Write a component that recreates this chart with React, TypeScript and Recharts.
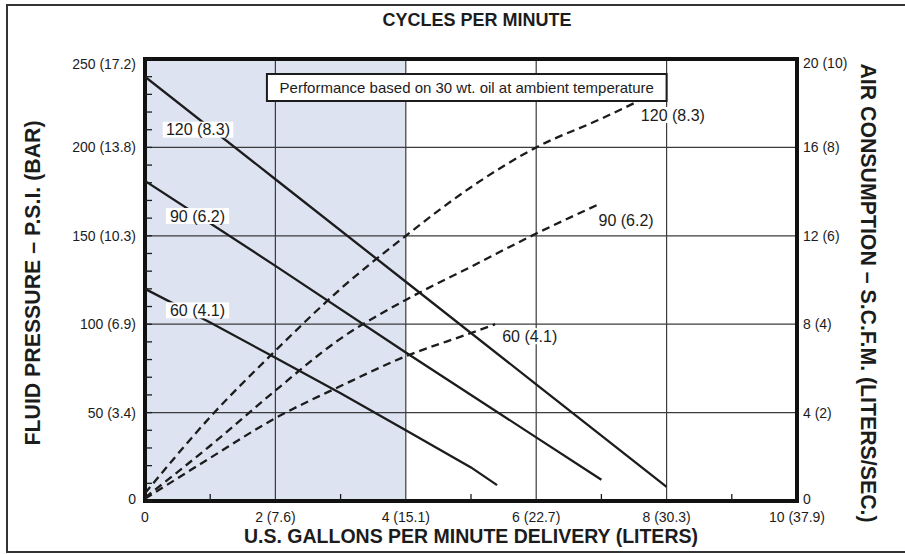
import React from "react";
import {
  CartesianGrid,
  ComposedChart,
  LabelList,
  Line,
  ReferenceArea,
  XAxis,
  YAxis
} from "recharts";

// axis ticks and labels
const cycleTicks = [0, 60, 120, 180, 240, 300];
const gpmTicks = [0, 2, 4, 6, 8, 10];
const gpmTickLabels = ["0", "2 (7.6)", "4 (15.1)", "6 (22.7)", "8 (30.3)", "10 (37.9)"];
const gpmMinorTicks = [1, 3, 5, 7, 9];
const psiTicks = [0, 50, 100, 150, 200, 250];
const psiTickLabels = ["0", "50 (3.4)", "100 (6.9)", "150 (10.3)", "200 (13.8)", "250 (17.2)"];
const psiMinorTicks = [10, 20, 30, 40, 60, 70, 80, 90, 110, 120, 130, 140, 160, 170, 180, 190, 210, 220, 230, 240];
const scfmTicks = [0, 4, 8, 12, 16, 20];
const scfmTickLabels = ["0", "4 (2)", "8 (4)", "12 (6)", "16 (8)", "20 (10)"];

// air inlet pressure, psi (bar)
const inletLabels = ["120 (8.3)", "90 (6.2)", "60 (4.1)"];

// fluid pressure (psi) against delivery (gpm), solid lines
const fluid120Gpm = [0, 2, 4, 6, 8];
const fluid120Psi = [240, 182, 124, 66, 8];
const fluid90Gpm = [0, 2, 4, 6, 7];
const fluid90Psi = [181, 133, 84, 36, 12];
const fluid60Gpm = [0, 1, 2, 3, 4, 5, 5.4];
const fluid60Psi = [120, 101, 81, 61, 40, 19, 9];

// air consumption (scfm) against delivery (gpm), dashed lines
const air120Gpm = [0, 1, 2, 3, 4, 5, 6, 7, 7.57];
const air120Scfm = [0.35, 3.8, 6.8, 9.6, 12.0, 14.2, 16.0, 17.3, 18.1];
const air90Gpm = [0, 1, 2, 3, 4, 5, 6, 6.94];
const air90Scfm = [0.15, 2.5, 5.0, 7.35, 9.1, 10.6, 12.1, 13.4];
const air60Gpm = [0, 1, 2, 3, 4, 5, 5.37];
const air60Scfm = [0.1, 1.95, 3.75, 5.2, 6.55, 7.6, 8.0];

const noteText = "Performance based on 30 wt. oil at ambient temperature";

const W = 905;
const H = 554;
const PLOT = { left: 145, top: 59, right: 797, bottom: 501 };
const INK = "#1c1c1c";
const GRID = "#3c3c3c";
const SHADE = "#dee3f2";
const FONT = "'Liberation Sans', Arial, Helvetica, sans-serif";
const TICK_SIZE = 14;

const rows = (xs: number[], ys: number[]) => xs.map((gpm, i) => ({ gpm, value: ys[i] }));

function LeftTick(props: any) {
  const { x, y, payload } = props;
  const i = psiTicks.indexOf(payload.value);
  const nudge = payload.value === 250 ? 5 : payload.value === 0 ? -2 : 0;
  return (
    <g>
      <line x1={PLOT.left} x2={PLOT.left + 7} y1={y} y2={y} stroke={INK} strokeWidth={1.3} />
      {i >= 0 && (
        <text x={x} y={y + nudge} dy="0.35em" textAnchor="end" fontSize={TICK_SIZE} fill={INK} fontFamily={FONT}>
          {psiTickLabels[i]}
        </text>
      )}
    </g>
  );
}

function RightTick(props: any) {
  const { x, y, payload } = props;
  const i = scfmTicks.indexOf(payload.value);
  const nudge = payload.value === 20 ? 4 : payload.value === 0 ? -2 : 0;
  return (
    <text x={x} y={y + nudge} dy="0.35em" textAnchor="start" fontSize={TICK_SIZE} fill={INK} fontFamily={FONT}>
      {scfmTickLabels[i]}
    </text>
  );
}

function BottomTick(props: any) {
  const { x, y, payload } = props;
  const i = gpmTicks.indexOf(payload.value);
  if (i < 0) {
    return <line x1={x} x2={x} y1={PLOT.bottom} y2={PLOT.bottom - 7} stroke={INK} strokeWidth={1.3} />;
  }
  return (
    <text x={x} y={y} dy="0.35em" textAnchor="middle" fontSize={TICK_SIZE} fill={INK} fontFamily={FONT}>
      {gpmTickLabels[i]}
    </text>
  );
}

function TopTick(props: any) {
  const { x, y, payload } = props;
  return (
    <text x={x} y={y} dy="0.35em" textAnchor="middle" fontSize={TICK_SIZE} fill={INK} fontFamily={FONT}>
      {payload.value}
    </text>
  );
}

function Title(props: any) {
  const { text, tx, ty, rot = 0, size = 18 } = props;
  return (
    <text
      x={tx}
      y={ty}
      transform={rot ? `rotate(${rot} ${tx} ${ty})` : undefined}
      textAnchor="middle"
      dominantBaseline="central"
      fontSize={size}
      fontWeight="bold"
      fill={INK}
      fontFamily={FONT}
    >
      {text}
    </text>
  );
}

// label drawn once per series, offset from one of its points, on a white patch
function seriesLabel(text: string, pick: number, dx: number, dy: number, anchor: "middle" | "start") {
  return (props: any) => {
    if (props.index !== pick) return null;
    const vb = props.viewBox ?? props;
    const w = text.length * 7.4 + 4;
    const cx = anchor === "middle" ? vb.x + dx : vb.x + dx + w / 2 - 2;
    const cy = vb.y + dy;
    return (
      <g>
        <rect x={cx - w / 2} y={cy - 8} width={w} height={16} fill="#fff" />
        <text x={cx} y={cy} dy="0.35em" textAnchor="middle" fontSize={16} fill={INK} fontFamily={FONT}>
          {text}
        </text>
      </g>
    );
  };
}

export default function App() {
  return (
    <div
      style={{
        position: "absolute",
        left: 0,
        top: 0,
        width: W,
        height: H,
        overflow: "hidden",
        background: "#fff"
      }}
    >
      <div
        style={{
          position: "absolute",
          left: 6,
          top: 4,
          width: W + 20,
          height: 549,
          border: "2px solid #333",
          boxSizing: "border-box"
        }}
      />
      <div style={{ position: "absolute", left: 0, top: 0 }}>
        <ComposedChart
          width={W}
          height={H}
          margin={{ top: PLOT.top - 1, right: W - PLOT.right - 1, bottom: H - PLOT.bottom - 1, left: PLOT.left - 1 }}
        >
          <CartesianGrid
            xAxisId="gpm"
            yAxisId="psi"
            stroke={GRID}
            strokeWidth={1.2}
            verticalValues={gpmTicks}
            horizontalValues={psiTicks}
            verticalFill={[SHADE, SHADE, "transparent", "transparent", "transparent"]}
            fillOpacity={1}
          />
          <XAxis
            xAxisId="gpm"
            type="number"
            dataKey="gpm"
            domain={[0, 10]}
            ticks={[...gpmTicks, ...gpmMinorTicks].sort((a, b) => a - b)}
            interval={0}
            height={1}
            tickSize={0}
            tickMargin={16}
            axisLine={false}
            tickLine={false}
            tick={(p: any) => <BottomTick {...p} />}
            allowDataOverflow
            label={<Title text="U.S. GALLONS PER MINUTE DELIVERY (LITERS)" tx={471} ty={536} size={19.5} />}
          />
          <XAxis
            xAxisId="cycles"
            orientation="top"
            type="number"
            domain={[0, 300]}
            ticks={cycleTicks}
            interval={0}
            height={1}
            tickSize={0}
            tickMargin={14}
            axisLine={false}
            tickLine={false}
            tick={(p: any) => <TopTick {...p} />}
            allowDataOverflow
            label={<Title text="CYCLES PER MINUTE" tx={477} ty={20} size={18} />}
          />
          <YAxis
            yAxisId="psi"
            type="number"
            domain={[0, 250]}
            ticks={[...psiTicks, ...psiMinorTicks].sort((a, b) => a - b)}
            interval={0}
            width={1}
            tickSize={0}
            tickMargin={9}
            axisLine={false}
            tickLine={false}
            tick={(p: any) => <LeftTick {...p} />}
            allowDataOverflow
            label={<Title text="FLUID PRESSURE – P.S.I. (BAR)" tx={33} ty={283} rot={-90} size={21.3} />}
          />
          <YAxis
            yAxisId="scfm"
            orientation="right"
            type="number"
            domain={[0, 20]}
            ticks={scfmTicks}
            interval={0}
            width={1}
            tickSize={0}
            tickMargin={6}
            axisLine={false}
            tickLine={false}
            tick={(p: any) => <RightTick {...p} />}
            allowDataOverflow
            label={<Title text="AIR CONSUMPTION – S.C.F.M. (LITERS/SEC.)" tx={868} ty={293} rot={90} size={21.3} />}
          />

          <ReferenceArea
            xAxisId="gpm"
            yAxisId="psi"
            x1={1.87}
            x2={8.0}
            y1={226.2}
            y2={241.5}
            fill="#fff"
            fillOpacity={1}
            stroke={INK}
            strokeWidth={2}
            label={{ value: noteText, position: "center", fontSize: 15, fill: INK, fontFamily: FONT }}
          />

          <Line xAxisId="gpm" yAxisId="scfm" data={rows(air120Gpm, air120Scfm)} dataKey="value" type="monotone" stroke={INK} strokeWidth={2.3} strokeDasharray="8 5" dot={false} activeDot={false} isAnimationActive={false}>
            <LabelList dataKey="value" content={seriesLabel(inletLabels[0], air120Gpm.length - 1, 1, 14, "start")} />
          </Line>
          <Line xAxisId="gpm" yAxisId="scfm" data={rows(air90Gpm, air90Scfm)} dataKey="value" type="monotone" stroke={INK} strokeWidth={2.3} strokeDasharray="8 5" dot={false} activeDot={false} isAnimationActive={false}>
            <LabelList dataKey="value" content={seriesLabel(inletLabels[1], air90Gpm.length - 1, -1, 16, "start")} />
          </Line>
          <Line xAxisId="gpm" yAxisId="scfm" data={rows(air60Gpm, air60Scfm)} dataKey="value" type="monotone" stroke={INK} strokeWidth={2.3} strokeDasharray="8 5" dot={false} activeDot={false} isAnimationActive={false}>
            <LabelList dataKey="value" content={seriesLabel(inletLabels[2], air60Gpm.length - 1, 5, 12, "start")} />
          </Line>

          <Line xAxisId="gpm" yAxisId="psi" data={rows(fluid120Gpm, fluid120Psi)} dataKey="value" type="linear" stroke={INK} strokeWidth={2.3} dot={false} activeDot={false} isAnimationActive={false}>
            <LabelList dataKey="value" content={seriesLabel(inletLabels[0], 0, 53, 53, "middle")} />
          </Line>
          <Line xAxisId="gpm" yAxisId="psi" data={rows(fluid90Gpm, fluid90Psi)} dataKey="value" type="linear" stroke={INK} strokeWidth={2.3} dot={false} activeDot={false} isAnimationActive={false}>
            <LabelList dataKey="value" content={seriesLabel(inletLabels[1], 0, 52.5, 35, "middle")} />
          </Line>
          <Line xAxisId="gpm" yAxisId="psi" data={rows(fluid60Gpm, fluid60Psi)} dataKey="value" type="linear" stroke={INK} strokeWidth={2.3} dot={false} activeDot={false} isAnimationActive={false}>
            <LabelList dataKey="value" content={seriesLabel(inletLabels[2], 0, 52.5, 21.5, "middle")} />
          </Line>

          <ReferenceArea
            xAxisId="gpm"
            yAxisId="psi"
            x1={0}
            x2={10}
            y1={0}
            y2={250}
            fill="none"
            stroke="#111"
            strokeWidth={4}
          />
        </ComposedChart>
      </div>
    </div>
  );
}
